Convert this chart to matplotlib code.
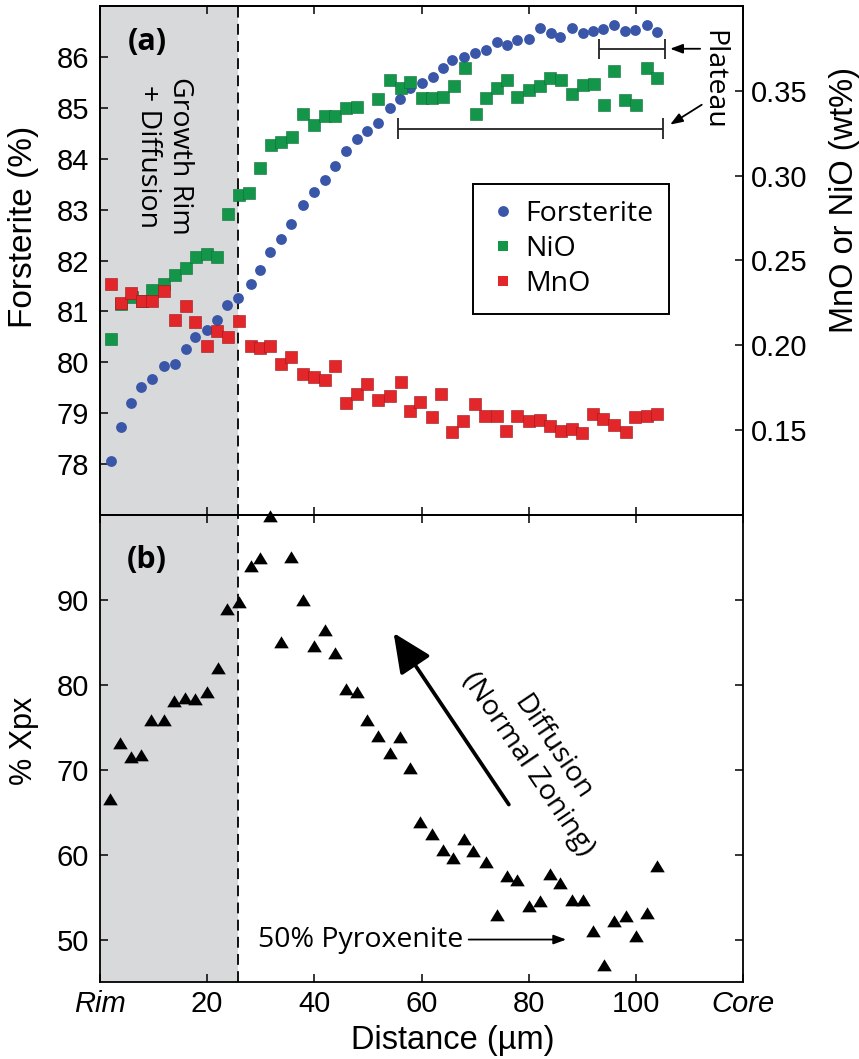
import numpy as np
import matplotlib
matplotlib.use('Agg')
import matplotlib.pyplot as plt
from matplotlib.lines import Line2D

# ---- data ----
# (a) forsterite profile
fo_x = [2.0, 4.0, 5.8, 7.7, 9.7, 11.9, 14.0, 16.0, 17.8, 19.9, 21.9, 23.7, 25.8,
        28.1, 29.9, 31.8, 33.8, 35.7, 37.9, 40.0, 42.0, 43.9, 46.0, 48.0, 49.9,
        51.8, 54.1, 55.9, 57.9, 60.1, 62.2, 64.0, 65.7, 67.9, 69.9, 72.1, 74.1,
        76.0, 77.8, 80.1, 82.2, 84.1, 85.9, 88.1, 90.1, 92.0, 93.9, 95.9, 98.0,
        99.9, 102.1, 104.0]
fo_y = [78.07, 78.72, 79.21, 79.51, 79.68, 79.92, 79.97, 80.26, 80.49, 80.64,
        80.83, 81.13, 81.27, 81.53, 81.82, 82.17, 82.43, 82.71, 83.10, 83.34,
        83.59, 83.86, 84.15, 84.39, 84.55, 84.70, 85.00, 85.17, 85.39, 85.49,
        85.61, 85.78, 85.93, 86.00, 86.08, 86.13, 86.29, 86.24, 86.34, 86.36,
        86.57, 86.47, 86.40, 86.56, 86.47, 86.50, 86.54, 86.62, 86.50, 86.52,
        86.62, 86.49]

# NiO (wt%)
ni_x = [2.0, 4.0, 6.0, 7.9, 9.7, 11.9, 14.0, 16.0, 18.0, 20.0, 21.9, 23.8, 25.9,
        27.9, 29.9, 31.9, 33.8, 35.9, 37.9, 40.0, 41.9, 43.9, 46.0, 48.0, 51.8,
        54.1, 56.1, 57.9, 60.1, 62.0, 64.0, 66.0, 68.1, 70.1, 72.1, 74.1, 76.0,
        77.9, 80.0, 82.2, 84.0, 86.0, 88.1, 90.1, 92.1, 94.0, 96.0, 98.0, 100.1,
        102.0, 104.0]
ni_y = [0.2036, 0.2245, 0.2284, 0.2259, 0.2324, 0.2362, 0.2412, 0.2455, 0.2523,
        0.2537, 0.2523, 0.2772, 0.2886, 0.2896, 0.3043, 0.3180, 0.3196, 0.3229,
        0.3361, 0.3298, 0.3351, 0.3351, 0.3396, 0.3406, 0.3449, 0.3565, 0.3514,
        0.3555, 0.3455, 0.3455, 0.3465, 0.3529, 0.3635, 0.3362, 0.3459, 0.3518,
        0.3562, 0.3465, 0.3504, 0.3529, 0.3576, 0.3562, 0.3484, 0.3537, 0.3543,
        0.3415, 0.3615, 0.3445, 0.3419, 0.3635, 0.3578]

# MnO (wt%)
mn_x = [2.0, 4.0, 5.8, 7.9, 9.7, 11.9, 14.0, 16.0, 17.8, 19.9, 21.9, 23.8, 25.9,
        28.1, 29.9, 31.8, 33.8, 35.7, 37.9, 39.9, 41.9, 43.9, 46.0, 48.0, 49.9,
        51.8, 54.1, 56.1, 57.9, 59.8, 61.9, 63.7, 65.7, 67.8, 69.9, 71.9, 74.0,
        75.8, 77.8, 80.0, 82.1, 83.9, 86.0, 88.0, 90.0, 92.0, 93.9, 96.0, 98.1,
        99.9, 102.0, 104.0]
mn_y = [0.2364, 0.2249, 0.2308, 0.2259, 0.2259, 0.2321, 0.2150, 0.2233, 0.2137,
        0.1994, 0.2086, 0.2049, 0.2145, 0.1994, 0.1984, 0.1998, 0.1892, 0.1931,
        0.1831, 0.1814, 0.1794, 0.1880, 0.1661, 0.1714, 0.1774, 0.1680, 0.1702,
        0.1784, 0.1612, 0.1665, 0.1576, 0.1715, 0.1490, 0.1556, 0.1656, 0.1586,
        0.1582, 0.1498, 0.1586, 0.1553, 0.1562, 0.1527, 0.1498, 0.1504, 0.1484,
        0.1596, 0.1566, 0.1533, 0.1490, 0.1576, 0.1586, 0.1596]

# (b) % Xpx
xpx_x = [1.9, 3.8, 5.8, 7.7, 9.6, 11.9, 13.8, 15.8, 17.8, 20.0, 22.0, 23.7, 25.9,
         28.1, 29.9, 31.8, 33.8, 35.7, 37.9, 39.9, 41.9, 43.9, 46.0, 48.0, 49.9,
         51.8, 54.1, 55.9, 57.8, 59.8, 62.0, 64.0, 65.9, 67.9, 69.7, 72.1, 74.1,
         76.0, 77.9, 80.0, 82.2, 83.9, 85.9, 88.1, 90.1, 92.0, 94.0, 95.9, 98.2,
         100.1, 102.1, 104.0]
xpx_y = [66.6, 73.2, 71.5, 71.7, 75.9, 75.9, 78.1, 78.4, 78.3, 79.2, 82.0, 88.9,
         89.7, 94.0, 94.9, 99.9, 85.1, 95.1, 90.0, 84.6, 86.5, 83.7, 79.5, 79.2,
         75.9, 74.0, 72.0, 73.8, 70.2, 63.9, 62.4, 60.5, 59.6, 61.8, 60.4, 59.1,
         52.9, 57.5, 57.0, 53.9, 54.5, 57.7, 56.7, 54.6, 54.6, 51.0, 47.0, 52.2,
         52.8, 50.4, 53.1, 58.7]

x_ticks = [0, 20, 40, 60, 80, 100, 120]
x_ticklabels = ['Rim', '20', '40', '60', '80', '100', 'Core']
rim_edge = 25.8

c_fo = '#3a56a8'
c_ni = '#14964a'
c_mn = '#e2262a'
shade = '#d8d9db'

W, H = 859, 1059
plt.rcParams['font.family'] = ['Liberation Sans', 'DejaVu Sans']
ann_font = ['Open Sans', 'DejaVu Sans']
ann_size = 20.5

# slightly flattened triangle, like the reference markers
tri = [(-1, -0.8), (1, -0.8), (0, 0.85), (-1, -0.8)]

fig = plt.figure(figsize=(W / 100, H / 100), dpi=100)
L, R = 100 / W, 743 / W
ax = fig.add_axes([L, 1 - 515 / H, R - L, (515 - 6) / H])
axb = fig.add_axes([L, 1 - 982 / H, R - L, (982 - 515) / H], sharex=ax)
ax2 = ax.twinx()

for a in (ax, axb, ax2):
    for s in a.spines.values():
        s.set_linewidth(1.3)
    a.tick_params(direction='in', length=6, width=1.1, labelsize=21)

# ---- panel (a) ----
ax.axvspan(0, rim_edge, color=shade, lw=0, zorder=0)
ax.axvline(rim_edge, color='black', ls=(0, (6, 3.5)), lw=1.3)
ax.plot(fo_x, fo_y, 'o', color=c_fo, ms=7.8, mew=0, zorder=3)
ax2.plot(ni_x, ni_y, 's', color=c_ni, ms=8.3, mec='#0c6e33', mew=0.4)
ax2.plot(mn_x, mn_y, 's', color=c_mn, ms=8.3, mec='#9b1518', mew=0.4)

ax.set_xlim(0, 120)
ax.set_ylim(77, 87)
ax.set_yticks(range(78, 87))
ax2.set_ylim(0.10, 0.40)
ax2.set_yticks([0.15, 0.20, 0.25, 0.30, 0.35])
ax2.set_yticklabels(['0.15', '0.20', '0.25', '0.30', '0.35'])
ax.tick_params(axis='x', top=True, labelbottom=False)
ax.tick_params(axis='y', pad=8)
ax2.tick_params(axis='y', pad=6)

# plateau brackets
ax.hlines(86.16, 93.2, 105.4, color='#222222', lw=1.3)
ax.vlines([93.2, 105.4], 85.96, 86.36, color='#222222', lw=1.3)
ax.hlines(84.59, 55.7, 105.0, color='#222222', lw=1.3)
ax.vlines([55.7, 105.0], 84.39, 84.79, color='#222222', lw=1.3)
small_head = '-|>,head_length=0.75,head_width=0.28'
ax.annotate('', xy=(106.4, 86.16), xytext=(112.0, 86.16),
            arrowprops=dict(arrowstyle=small_head, color='black', lw=1.3,
                            shrinkA=0, shrinkB=0))
ax.annotate('', xy=(106.4, 84.67), xytext=(112.3, 85.06),
            arrowprops=dict(arrowstyle=small_head, color='black', lw=1.3,
                            shrinkA=0, shrinkB=0))
ax.text(0.953, 0.855, 'Plateau', transform=ax.transAxes, rotation=-90,
        ha='center', va='center', fontsize=ann_size, family=ann_font)

ax.text(0.073, 0.929, '(a)', transform=ax.transAxes, ha='center', va='center',
        fontsize=22, fontweight='bold', family=ann_font)
ax.text(0.0995, 0.705, 'Growth Rim\n+ Diffusion', transform=ax.transAxes,
        rotation=-90, ha='center', va='center', multialignment='center',
        fontsize=ann_size, family=ann_font, linespacing=1.15)

handles = [Line2D([], [], ls='', marker='o', color=c_fo, ms=7.8, mew=0),
           Line2D([], [], ls='', marker='s', color=c_ni, ms=7.5, mew=0),
           Line2D([], [], ls='', marker='s', color=c_mn, ms=7.5, mew=0)]
leg = ax2.legend(handles, ['Forsterite', 'NiO', 'MnO'], loc='upper left',
                 bbox_to_anchor=(0.58, 0.65), fancybox=False, framealpha=1,
                 edgecolor='black', prop={'family': ann_font, 'size': 20.5},
                 handletextpad=0.3, borderpad=0.55, labelspacing=0.25,
                 handlelength=1.0, borderaxespad=0)
leg.get_frame().set_linewidth(1.4)

# ---- panel (b) ----
axb.axvspan(0, rim_edge, color=shade, lw=0, zorder=0)
axb.axvline(rim_edge, color='black', ls=(0, (6, 3.5)), lw=1.3)
axb.plot(xpx_x, xpx_y, ls='', marker=tri, color='black', ms=10.5, mew=0,
         clip_on=False, zorder=3)
axb.set_ylim(45, 100)
axb.set_yticks([50, 60, 70, 80, 90])
axb.set_xticks(x_ticks)
axb.set_xticklabels(x_ticklabels)
for lab in axb.get_xticklabels():
    if lab.get_text() in ('Rim', 'Core'):
        lab.set_style('italic')
axb.tick_params(axis='x', top=True, pad=6)
axb.tick_params(axis='y', right=True, pad=8)

axb.annotate('', xy=(54.8, 86.1), xytext=(76.3, 65.9),
             arrowprops=dict(arrowstyle='-|>,head_length=1.2,head_width=0.55',
                             color='black', lw=2.7, shrinkA=0, shrinkB=0,
                             mutation_scale=20))
axb.text(82.2, 71.6, 'Diffusion\n(Normal Zoning)', rotation=-56,
         ha='center', va='center', multialignment='center', fontsize=ann_size,
         family=ann_font, rotation_mode='anchor', linespacing=1.1)
axb.text(29.4, 50.0, '50% Pyroxenite', ha='left', va='center',
         fontsize=ann_size, family=ann_font)
axb.annotate('', xy=(87.0, 50.0), xytext=(68.8, 50.0),
             arrowprops=dict(arrowstyle=small_head, color='black', lw=1.3,
                             shrinkA=0, shrinkB=0))
axb.text(0.073, 0.903, '(b)', transform=axb.transAxes, ha='center', va='center',
         fontsize=22, fontweight='bold', family=ann_font)

# axis labels placed at their reference positions
fig.text(24 / W, 1 - 227 / H, 'Forsterite (%)', rotation=90, ha='center',
         va='center', fontsize=24)
fig.text(845 / W, 1 - 200 / H, 'MnO or NiO (wt%)', rotation=90, ha='center',
         va='center', fontsize=23.5)
fig.text(24 / W, 1 - 741 / H, '% Xpx', rotation=90, ha='center',
         va='center', fontsize=22)
fig.text(453 / W, 1 - 1040 / H, 'Distance (µm)', ha='center', va='center',
         fontsize=23.5)

fig.savefig('out.png', dpi=100)
